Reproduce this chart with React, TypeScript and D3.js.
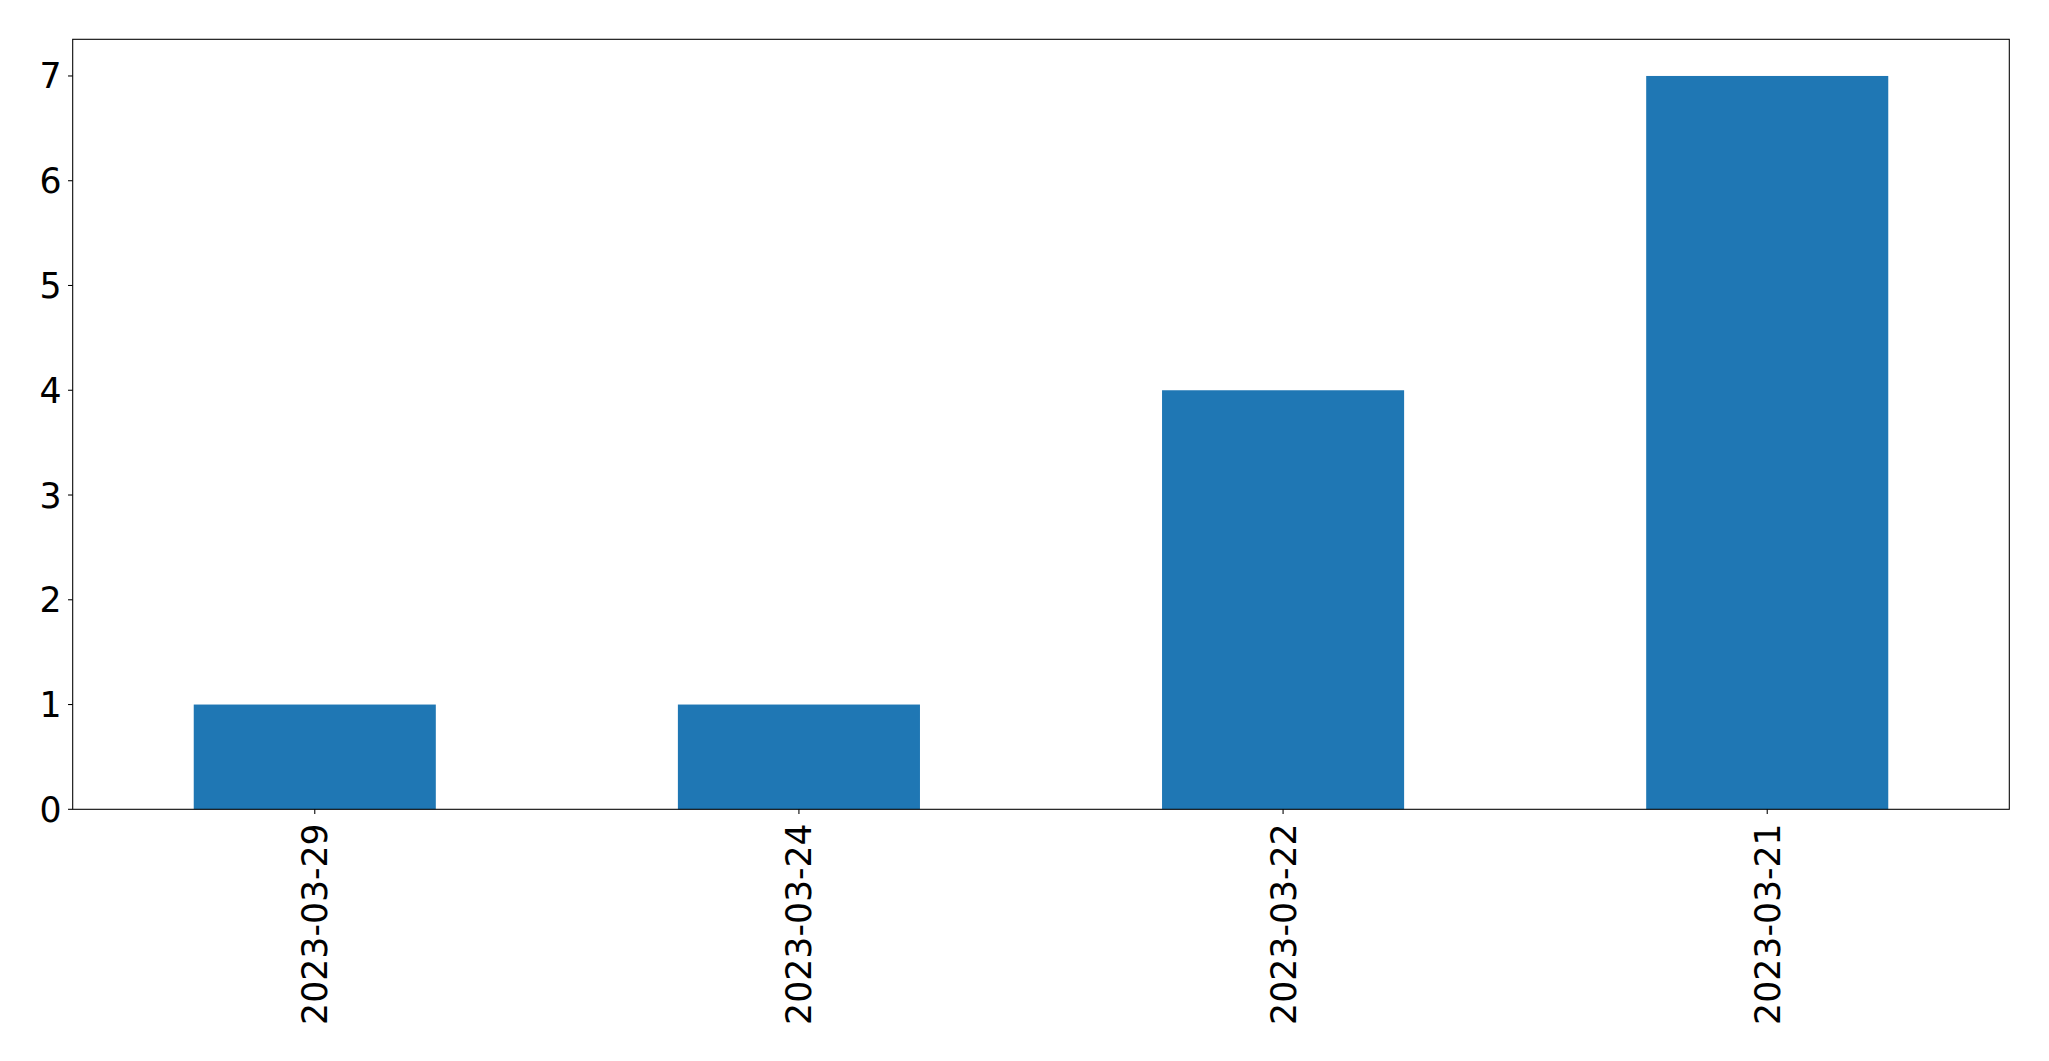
import React from "react";
import * as d3 from "d3";

const categories = ["2023-03-29", "2023-03-24", "2023-03-22", "2023-03-21"];
const values = [1, 1, 4, 7];
const yTicks = [0, 1, 2, 3, 4, 5, 6, 7];

const W = 2049;
const H = 1061;
const left = 72.7;
const right = 2009.3;
const top = 39.3;
const bottom = 809.3;
const FONT = "'DejaVu Sans', sans-serif";
const FS = 34.7;
const TICK = 4.67;

export default function App() {
  const x = d3
    .scaleLinear()
    .domain([-0.5, categories.length - 0.5])
    .range([left, right]);
  const y = d3.scaleLinear().domain([0, 7.35]).range([bottom, top]);
  const bw = x(0.25) - x(-0.25);

  return (
    <svg
      width={W}
      height={H}
      style={{ position: "absolute", left: 0, top: 0, display: "block", background: "#fff" }}
    >
      <rect x={0} y={0} width={W} height={H} fill="#fff" />
      {values.map((v, i) => (
        <rect
          key={i}
          x={x(i) - bw / 2}
          y={y(v)}
          width={bw}
          height={y(0) - y(v)}
          fill="#1f77b4"
        />
      ))}
      <rect
        x={left}
        y={top}
        width={right - left}
        height={bottom - top}
        fill="none"
        stroke="#000"
        strokeWidth={1.07}
      />
      {yTicks.map((t) => (
        <g key={t}>
          <line x1={left - TICK} x2={left} y1={y(t)} y2={y(t)} stroke="#000" strokeWidth={1.07} />
          <text
            x={61.5}
            y={y(t)}
            dy="0.36em"
            textAnchor="end"
            fontFamily={FONT}
            fontSize={FS}
            fill="#000"
          >
            {t}
          </text>
        </g>
      ))}
      {categories.map((c, i) => (
        <g key={c}>
          <line x1={x(i)} x2={x(i)} y1={bottom} y2={bottom + TICK} stroke="#000" strokeWidth={1.07} />
          <text
            transform={`translate(${x(i)},${bottom + 14}) rotate(-90)`}
            x={0}
            y={0}
            dy="0.36em"
            textAnchor="end"
            fontFamily={FONT}
            fontSize={FS}
            fill="#000"
          >
            {c}
          </text>
        </g>
      ))}
    </svg>
  );
}
